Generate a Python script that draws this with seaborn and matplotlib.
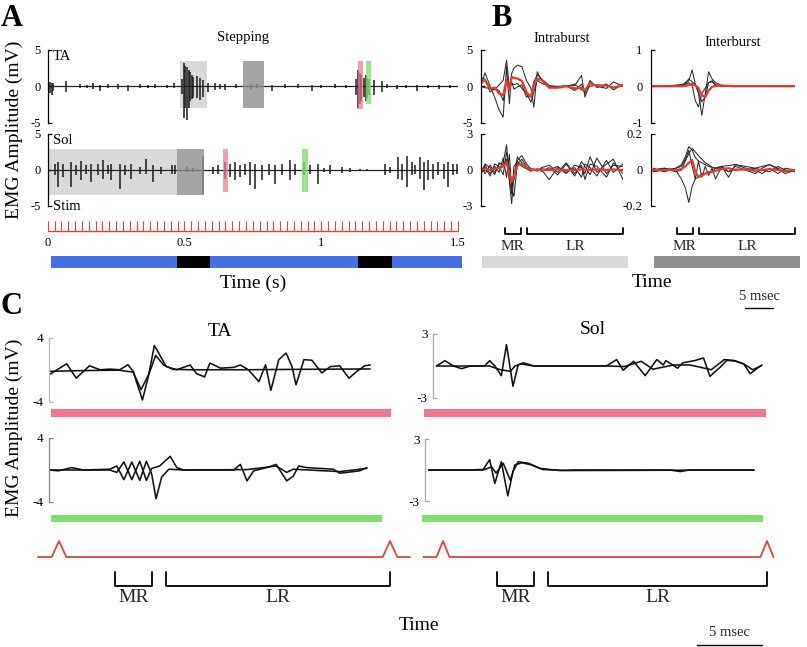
import matplotlib
matplotlib.use("Agg")
import matplotlib.pyplot as plt
import pandas as pd
import seaborn as sns

# ---------------- data ----------------
# A: raw stepping trace (s, mV); each spike drawn from its low to its high value
stim_times_s = [0.0, 0.025, 0.05, 0.075, 0.1, 0.125, 0.15, 0.175, 0.2, 0.225,
                0.25, 0.275, 0.3, 0.325, 0.35, 0.375, 0.4, 0.425, 0.45, 0.475,
                0.5, 0.525, 0.55, 0.575, 0.6, 0.625, 0.65, 0.675, 0.7, 0.725,
                0.75, 0.775, 0.8, 0.825, 0.85, 0.875, 0.9, 0.925, 0.95, 0.975,
                1.0, 1.025, 1.05, 1.075, 1.1, 1.125, 1.15, 1.175, 1.2, 1.225,
                1.25, 1.275, 1.3, 1.325, 1.35, 1.375, 1.4, 1.425, 1.45, 1.475, 1.5]

ta_spike_t = [0.008, 0.015, 0.02, 0.067, 0.118, 0.143, 0.167, 0.19, 0.22, 0.257,
              0.294, 0.338, 0.365, 0.393, 0.436, 0.463, 0.49, 0.497, 0.503, 0.509,
              0.515, 0.52, 0.527, 0.533, 0.545, 0.555, 0.567, 0.587, 0.61, 0.63,
              0.65, 0.69, 0.743, 0.765, 0.82, 0.868, 0.916, 0.965, 1.0, 1.05,
              1.09, 1.128, 1.135, 1.14, 1.147, 1.155, 1.162, 1.168, 1.175, 1.194,
              1.222, 1.24, 1.276, 1.31, 1.35, 1.39, 1.43, 1.47]
ta_spike_hi = [0.65, 0.4, 0.5, 0.7, 0.3, 0.2, 0.4, 0.2, 0.3, 0.3,
               0.2, 0.3, 0.2, 0.3, 0.2, 0.4, 1.0, 3.2, 2.8, 2.7,
               2.2, 2.0, 1.5, 1.3, 1.4, 1.1, 0.9, 0.4, 0.4, 0.3,
               0.3, 0.3, 0.3, 0.3, 0.2, 0.3, 0.3, 0.2, 0.2, 0.3,
               0.2, 1.0, 2.3, 1.8, 1.5, 1.2, 1.6, 1.2, 1.0, 0.9,
               0.74, 0.3, 0.2, 0.2, 0.2, 0.2, 0.2, 0.2]
ta_spike_lo = [-0.97, -1.2, -0.6, -0.8, -0.3, -0.3, -0.4, -0.6, -0.3, -0.4,
               -0.7, -0.3, -0.2, -0.3, -0.3, -0.3, -1.0, -4.4, -3.0, -4.7,
               -3.0, -2.1, -1.8, -1.6, -1.6, -1.9, -1.44, -0.74, -0.5, -0.4,
               -0.5, -0.3, -0.4, -0.3, -0.6, -0.3, -0.3, -0.7, -0.2, -0.3,
               -0.3, -1.2, -3.05, -2.5, -2.0, -1.5, -2.1, -1.6, -1.2, -1.2,
               -0.74, -0.3, -0.4, -0.3, -0.6, -0.2, -0.4, -0.2]

sol_spike_t = [0.027, 0.039, 0.057, 0.087, 0.105, 0.123, 0.141, 0.16, 0.184, 0.203,
               0.221, 0.233, 0.263, 0.282, 0.306, 0.337, 0.361, 0.386, 0.416, 0.453,
               0.465, 0.508, 0.533, 0.566, 0.606, 0.624, 0.648, 0.667, 0.685, 0.704,
               0.722, 0.738, 0.759, 0.783, 0.808, 0.832, 0.857, 0.887, 0.905, 0.936,
               0.96, 0.99, 1.01, 1.033, 1.076, 1.106, 1.143, 1.167, 1.234, 1.252,
               1.282, 1.294, 1.313, 1.331, 1.343, 1.362, 1.374, 1.392, 1.41, 1.428,
               1.447, 1.465, 1.483, 1.496]
sol_spike_hi = [0.88, 1.1, 0.88, 1.1, 0.65, 1.2, 0.65, 0.88, 0.88, 1.34,
                0.65, 0.88, 0.88, 0.65, 0.88, 0.42, 1.57, 0.65, 0.42, 0.65,
                0.65, 0.42, 0.3, 2.0, 0.4, 0.65, 1.1, 0.88, 1.1, 0.65,
                0.88, 1.1, 0.88, 0.65, 0.88, 0.65, 0.88, 1.34, 0.88, 1.1,
                0.65, 0.88, 0.3, 0.65, 0.4, 0.3, 0.2, 0.2, 0.88, 0.4,
                1.8, 0.88, 1.9, 1.1, 0.65, 1.8, 1.1, 1.34, 0.88, 1.1,
                0.88, 1.1, 0.88, 0.88]
sol_spike_lo = [-0.74, -2.36, -0.97, -2.36, -0.74, -1.44, -0.5, -1.67, -0.74, -1.2,
                -0.5, -1.44, -2.6, -0.74, -1.2, -0.5, -0.5, -1.67, -0.5, -0.5,
                -0.5, -0.28, -0.3, -3.3, -0.5, -0.5, -1.2, -0.97, -1.44, -0.97,
                -0.74, -2.13, -2.6, -1.44, -0.74, -1.9, -0.74, -1.44, -0.74, -0.74,
                -0.5, -1.9, -0.3, -0.5, -0.4, -0.3, -0.2, -0.2, -0.74, -0.4,
                -1.2, -1.44, -2.36, -0.74, -0.5, -1.2, -2.8, -1.44, -1.2, -0.74,
                -1.2, -2.36, -0.74, -0.5]

# analysis windows (t0, t1, low mV, high mV)
ta_windows = {"light": (0.485, 0.583, -3.0, 3.5), "dark": (0.714, 0.792, -3.0, 3.5),
              "pink": (1.133, 1.152, -3.2, 3.5), "green": (1.162, 1.183, -2.5, 3.5)}
sol_windows = {"light": (0.0, 0.473, -3.5, 2.9), "dark": (0.473, 0.57, -3.5, 2.9),
               "pink": (0.64, 0.66, -3.1, 2.9), "green": (0.93, 0.95, -3.1, 2.9)}

gait_span_s = (0.012, 1.515)
swing_blocks_s = [(0.473, 0.595), (1.133, 1.258)]
a_xticks = [0, 0.5, 1, 1.5]
a_xticklabels = ["0", "0.5", "1", "1.5"]

# B: stimulus-triggered sweeps (ms, mV)
ib_t = [0, 0.7, 1.6, 2.4, 3.2, 3.9, 4.5, 5.0, 5.4, 5.8, 6.4, 7.2, 8.0, 8.8,
        9.3, 9.9, 10.7, 12.0, 13.5, 15.0, 16.5, 17.7, 18.3, 19.2, 20.4, 22.1, 23.3, 25.0]
ib_ta_mean = [0.6, 0.83, -0.32, -0.2, -1.0, -1.25, 0.83, -0.55, 1.3, 1.15, 1.06, 0.74, -0.8, -1.5,
              0.14, 1.06, 0.83, -0.2, -0.2, 0.0, -0.3, -0.2, -0.55, 0.45, 0.0, 0.1, -0.2, 0.14]
ib_ta_1 = [0.0, 1.85, 0.0, -1.5, -3.3, -4.25, 2.7, -2.4, 1.76, 2.5, 2.9, 2.7, 0.8, -0.3,
           -2.9, 2.0, 0.8, -0.1, -0.2, 0.0, 0.1, 1.5, -1.5, 0.4, 0.0, -0.3, 0.6, 0.0]
ib_ta_2 = [0.0, -0.2, -0.3, -0.5, 0.2, 0.8, 3.6, -0.3, 0.4, 0.2, 0.4, -0.3, -1.0, -2.2,
           -0.8, 0.8, 0.4, 0.0, 0.0, 0.0, 0.3, -0.5, -0.6, 0.0, 0.2, 0.1, -0.2, 0.1]
ib_ta_3 = [1.2, 1.0, -0.8, -0.2, -0.6, -2.0, 0.5, 0.3, 0.6, -0.4, -0.1, 0.2, -1.5, -1.2,
           0.6, 1.6, 1.0, 0.1, -0.1, 0.1, -0.6, 0.3, -1.0, 0.8, -0.2, 0.3, -0.5, 0.3]
ib_sol_mean = [0.0, 0.1, 0.0, 0.1, 0.15, 0.3, 0.6, -0.3, -1.0, -0.5, 0.4, 0.5, 0.2, 0.05,
               0.0, 0.0, 0.0, 0.0, 0.05, 0.0, 0.0, 0.05, 0.0, 0.0, 0.05, 0.0, 0.05, 0.0]
ib_sol_1 = [0.3, -0.3, 0.4, -0.2, 0.5, 0.6, 2.1, -1.0, -2.8, -0.5, 1.1, 0.6, 0.2, 0.1,
            0.0, 0.1, 0.0, -0.8, 0.2, -0.3, 0.4, 0.2, -0.3, 1.1, -0.2, 0.5, 0.9, -0.8]
ib_sol_2 = [-0.4, 0.4, -0.3, 0.3, -0.2, 1.0, -0.6, 1.3, -1.6, -2.2, 0.5, 0.9, 0.3, 0.0,
            0.1, 0.0, -0.1, 0.2, -0.4, 0.5, -0.5, 0.7, 0.3, -0.4, 1.0, -0.3, 0.4, 0.3]
ib_sol_3 = [0.1, 0.2, -0.5, 0.5, 0.3, -0.4, 1.5, 0.2, -1.2, -0.8, 0.8, 1.2, 0.5, 0.1,
            0.0, 0.0, 0.1, 0.0, 0.3, -0.2, 0.2, -0.6, 0.5, 0.2, -0.5, 0.8, -0.2, 0.5]
ib_sol_4 = [-0.3, 0.5, 0.2, -0.4, 0.6, 0.4, 0.9, -0.8, -2.0, 0.3, 0.7, 0.3, 0.1, -0.1,
            0.05, -0.1, 0.2, 0.4, -0.2, 0.6, -0.3, 0.4, -0.8, 0.5, 0.3, -0.6, 0.6, -0.3]

itb_t = [0, 2.0, 4.0, 5.0, 5.7, 6.3, 6.9, 7.45, 8.0, 8.6, 9.2, 9.8,
         10.4, 11.0, 12.1, 13.3, 14.5, 16.3, 18.0, 19.2, 20.5, 22.0, 23.3, 25.0]
itb_ta_mean = [0, 0, 0, 0, 0.01, 0.03, 0.07, 0.02, -0.05, -0.25, -0.3, -0.12,
               -0.02, 0.01, 0.02, 0.01, 0, 0, 0, 0, 0, 0, 0, 0]
itb_ta_1 = [0.02, 0, 0.03, 0.05, 0.08, 0.15, 0.45, 0.05, -0.2, -0.8, -0.2, 0.4,
            0.2, 0.1, 0.02, 0, 0, 0, 0, 0, 0, 0, 0, 0]
itb_ta_2 = [0, 0.02, 0, 0.02, 0.05, 0.1, 0.02, -0.4, -0.57, -0.2, -0.05, 0.1,
            0.15, 0.05, 0, 0, 0, 0, 0, 0, 0, 0, 0, 0]
itb_ta_3 = [0.01, 0, 0.02, 0, 0.1, 0.2, 0.12, 0.05, -0.15, -0.43, -0.3, 0.1,
            0.12, 0.03, 0, 0, 0, 0, 0, 0, 0, 0, 0, 0]
itb_sol_mean = [0, 0, 0, 0.005, 0.02, 0.04, 0.056, -0.01, -0.04, -0.03, -0.02, -0.015,
                -0.01, -0.005, 0.005, 0.01, 0, 0.005, -0.005, 0, 0.005, 0, -0.005, 0]
itb_sol_1 = [0.01, -0.01, 0.01, 0.03, 0.075, 0.13, 0.11, 0.07, 0.05, 0.04, 0.03, 0.02,
             0.015, 0.01, 0.02, -0.01, 0.005, 0, -0.02, 0.01, 0.03, 0.005, -0.02, 0]
itb_sol_2 = [0, 0.01, 0, -0.05, -0.1, -0.18, -0.09, -0.05, -0.04, -0.02, -0.02, -0.01,
             -0.01, 0.01, 0.01, -0.01, 0.02, 0, 0.01, 0, -0.01, 0.02, 0, -0.01]
itb_sol_3 = [-0.01, 0, 0.01, 0.02, 0.06, 0.11, 0.02, -0.05, 0.05, -0.04, 0.02, -0.03,
             0.01, -0.05, 0.02, -0.04, 0.03, 0.01, 0, -0.02, 0.01, -0.02, 0.01, 0]
itb_sol_4 = [0, 0.01, -0.01, 0, 0.05, 0.09, 0.12, 0.1, 0.08, 0.06, 0.04, 0.03,
             0.015, 0.01, 0.02, 0.025, 0.03, 0.02, 0.01, 0.02, 0.03, 0.01, -0.01, 0]

# C: single sweeps from the pink and green windows (ms, mV)
c_ta_pink_t1 = [-0.75, 0.58, 1.3, 2.3, 3.1, 3.85, 4.6, 5.2, 5.6, 6.3, 6.75, 7.2, 7.6,
                8.1, 8.9, 9.9, 10.4, 11.0, 11.4, 12.2, 13.2, 13.7, 14.3, 15.1, 15.6, 16.0,
                16.6, 17.15, 17.6, 17.9, 18.5, 19.1, 19.85, 20.5, 21.2, 21.9, 22.5, 23.1, 23.5]
c_ta_pink_v1 = [-0.64, 0.76, -1.06, 0.5, 0.0, 0.08, 0.0, 0.64, -0.2, -3.8, -0.85, 3.05, 1.9,
                0.4, 0.0, 0.6, -0.5, -0.9, 0.85, 0.2, 0.3, 0.6, 0.0, -1.5, 0.64, -2.6,
                1.27, 2.1, 0.4, -1.9, 1.27, 1.2, -0.4, 0.4, 0.5, -1.06, -0.2, 0.5, 0.6]
c_ta_pink_t2 = [-0.75, 2.0, 4.5, 5.6, 6.2, 6.8, 7.3, 7.9, 8.6, 10.0, 14.0, 18.0, 23.5]
c_ta_pink_v2 = [-0.2, -0.1, -0.05, -0.3, -2.5, -0.5, 1.8, 0.6, 0.05, 0.0, 0.0, 0.05, 0.1]
c_ta_green_t1 = [-0.75, -0.05, 0.96, 1.84, 3.85, 4.36, 4.9, 5.5, 6.1, 6.6, 7.0, 7.33, 7.75,
                 8.3, 9.4, 13.2, 13.7, 14.2, 14.7, 15.7, 16.4, 17.2, 17.7, 18.1, 18.7,
                 20.7, 21.2, 22.0, 22.7, 23.25]
c_ta_green_v1 = [0.0, -0.1, 0.3, 0.0, 0.1, 0.5, -1.2, 1.0, -1.3, 1.1, -0.5, -3.6, -0.9,
                 0.1, 0.0, 0.0, 0.7, -1.36, -0.1, 0.3, 0.7, -1.36, -0.75, 0.5, 0.3,
                 0.1, -0.4, -0.25, -0.1, 0.3]
c_ta_green_t2 = [-0.75, 1.0, 3.85, 4.36, 4.9, 5.5, 6.1, 6.6, 7.0, 7.6, 8.4, 8.9, 9.4,
                 14.2, 16.4, 17.2, 17.7, 21.2, 23.25]
c_ta_green_v2 = [0.0, 0.0, 0.0, -0.3, 1.0, -1.2, 1.1, -1.3, 0.2, 0.5, 1.7, 0.3, 0.0,
                 0.05, 0.5, -0.3, 0.1, -0.2, 0.2]
c_sol_pink_t1 = [-0.5, 0.15, 0.8, 1.44, 2.1, 3.2, 3.6, 4.0, 4.5, 4.9, 5.4, 5.8, 6.2, 7.0,
                 12.6, 13.4, 13.9, 14.7, 15.6, 16.5, 17.0, 17.2, 18.1, 18.5, 19.4, 20.1,
                 20.6, 21.4, 21.9, 22.6, 23.2, 23.7, 24.6]
c_sol_pink_v1 = [0.0, 0.5, 0.0, -0.25, 0.0, 0.0, 0.5, 0.0, -0.9, 2.0, -1.9, 0.1, 0.3, 0.0,
                 0.0, 0.6, -0.4, 0.44, -0.9, 0.6, 0.1, 0.5, -0.2, 0.3, 0.5, 0.75,
                 -0.97, -0.1, 0.53, 0.45, 0.2, -0.72, 0.1]
c_sol_pink_t2 = [-0.5, 3.6, 4.4, 5.2, 5.55, 6.0, 7.0, 12.6, 14.0, 15.3, 16.2, 17.8, 19.0,
                 19.8, 20.7, 21.7, 22.4, 23.2, 23.9, 24.6]
c_sol_pink_v2 = [0.0, 0.0, -0.34, -0.5, 0.0, 0.2, 0.0, 0.0, -0.05, 0.44, -0.3, 0.1, 0.1,
                 -0.1, -0.35, 0.6, 0.53, 0.2, -0.35, 0.05]
c_sol_green_t1 = [-1.1, 1.8, 3.1, 3.6, 4.0, 4.5, 5.0, 5.4, 5.8, 6.6, 7.5, 9.0, 10.1,
                  17.5, 18.3, 19.0, 24.0]
c_sol_green_v1 = [0.0, 0.0, 0.05, 1.0, -1.3, 0.8, -2.5, -0.15, 0.8, 0.65, 0.15, -0.05, 0.0,
                  0.0, -0.15, 0.0, 0.0]
c_sol_green_t2 = [-1.1, 3.1, 3.75, 4.1, 4.65, 5.2, 5.55, 6.1, 6.8, 7.7, 9.5, 24.0]
c_sol_green_v2 = [0.0, 0.0, 0.3, -0.3, 0.65, -1.0, 0.5, 0.7, 0.5, 0.05, -0.05, 0.0]

stim_ta_t = [-1.6, -0.55, 0.0, 0.55, 24.45, 25.0, 25.55, 26.5]
stim_ta_v = [0, 0, 1, 0, 0, 1, 0, 0]
stim_sol_t = [-1.5, -0.5, 0.0, 0.5, 24.5, 25.0, 25.5]
stim_sol_v = [0, 0, 1, 0, 0, 1, 0]

mr_ms = (4.2, 7.0)
lr_ms = (8.1, 25.0)
b_bar_ms = (0.2, 25.9)
c_bar_ta_ms = {"pink": (-0.6, 25.1), "green": (-0.6, 24.4)}
c_bar_sol_ms = {"pink": (-1.5, 24.9), "green": (-1.6, 24.7)}
scale_ms = 5

# ---------------- style ----------------
BLUE = "#4470e4"
RED = "#e8392b"
STIM_RED = "#e0443a"
PINK = "#f27590"
GREEN = "#80df6c"
LIGHT = "#d9d9d9"
DARK = "#8e8e8e"
shade_style = {"light": (LIGHT, 1.0, 0), "dark": (DARK, 0.8, 3),
               "pink": (PINK, 0.7, 3), "green": (GREEN, 0.8, 3)}

sns.set_theme(style="white")
plt.rcParams["font.family"] = ["Liberation Serif", "DejaVu Serif"]

W, H = 807, 647
fig = plt.figure(figsize=(W / 100, H / 100), dpi=100)


def px_axes(x0, y0, x1, y1):
    ax = fig.add_axes([x0 / W, 1 - y1 / H, (x1 - x0) / W, (y1 - y0) / H])
    ax.set_facecolor("none")
    return ax


def ms_axes(x0, y0, x1, y1, t0_px, px_per_unit):
    ax = px_axes(x0, y0, x1, y1)
    ax.set_xlim((x0 - t0_px) / px_per_unit, (x1 - t0_px) / px_per_unit)
    return ax


def overlay(x0, y0, x1, y1, t0_px, px_per_unit):
    ax = ms_axes(x0, y0, x1, y1, t0_px, px_per_unit)
    ax.set_ylim(y1, y0)
    ax.axis("off")
    return ax


def px_text(x, y, s, size, ha="center", va="center", **kw):
    fig.text(x / W, 1 - y / H, s, fontsize=size, ha=ha, va=va, color="black", **kw)


def style_trace_axes(ax, ylim, ticks, labels, color="black", pad=5, size=9):
    ax.set_ylim(*ylim)
    ax.set_yticks(ticks)
    ax.set_yticklabels(labels)
    ax.set_xticks([])
    ax.set_xlabel("")
    ax.set_ylabel("")
    ax.grid(False)
    for side in ["top", "right", "bottom"]:
        ax.spines[side].set_visible(False)
    ax.spines["left"].set_color(color)
    ax.spines["left"].set_linewidth(0.9)
    ax.tick_params(axis="y", left=True, direction="in", length=3, width=0.9,
                   color=color, labelsize=size, labelcolor="black", pad=pad)


def draw_traces(ax, traces, color, lw):
    frames = [pd.DataFrame({"t": t, "mv": v, "trace": i}) for i, (t, v) in enumerate(traces)]
    df = pd.concat(frames, ignore_index=True)
    sns.lineplot(data=df, x="t", y="mv", units="trace", estimator=None, sort=False,
                 color=color, lw=lw, ax=ax, legend=False, solid_joinstyle="round")


def bracket(ax, window, y_top, y_bot, y_lab, size):
    t0, t1 = window
    ax.plot([t0, t0, t1, t1], [y_top, y_bot, y_bot, y_top], color="black", lw=1.3)
    ax.text((t0 + t1) / 2, y_lab, label_of[window], ha="center", va="center", fontsize=size)


label_of = {mr_ms: "MR", lr_ms: "LR"}

# ---------------- panel A ----------------
A_T0, A_S = 47.7, 273.3
for (y0, y1, t, hi, lo, wins) in [(50, 122.5, ta_spike_t, ta_spike_hi, ta_spike_lo, ta_windows),
                                  (134, 206, sol_spike_t, sol_spike_hi, sol_spike_lo, sol_windows)]:
    ax = px_axes(A_T0, y0, 458, y1)
    ax.set_xlim(0, 1.5)
    ax.plot([0, 1.5], [0, 0], color="#222222", lw=0.9, zorder=2)
    ax.vlines(t, lo, hi, color="#1a1a1a", lw=1.1, zorder=2)
    for name, (w0, w1, lo_mv, hi_mv) in wins.items():
        c, a, z = shade_style[name]
        ax.fill_between([w0, w1], lo_mv, hi_mv, color=c, alpha=a, lw=0, zorder=z)
    style_trace_axes(ax, (-5, 5), [-5, 0, 5], ["-5", "0", "5"], pad=5)

ax = px_axes(A_T0, 221, 458, 231)
ax.set_xlim(0, 1.5)
ax.set_ylim(0, 1)
ax.vlines(stim_times_s, 0, 1, color=STIM_RED, lw=0.8, clip_on=False)
ax.plot([0, 1.5], [0, 0], color=STIM_RED, lw=1.0, clip_on=False)
ax.set_yticks([])
ax.set_xticks(a_xticks)
ax.set_xticklabels(a_xticklabels)
ax.tick_params(axis="x", length=0, pad=4, labelsize=9, labelcolor="black")
for side in ax.spines:
    ax.spines[side].set_visible(False)

ax = px_axes(A_T0, 256, 458, 268)
ax.set_xlim(0, 1.5)
ax.set_ylim(0, 1)
ax.axis("off")
ax.fill_between(list(gait_span_s), 0, 1, color=BLUE, lw=0, clip_on=False)
for s0, s1 in swing_blocks_s:
    ax.fill_between([s0, s1], 0, 1, color="black", lw=0, clip_on=False)

# ---------------- panel B ----------------
B_S = 5.68
b_cols = [
    (481, 481, 623, [ib_ta_1, ib_ta_2, ib_ta_3], ib_ta_mean, [ib_sol_1, ib_sol_2, ib_sol_3, ib_sol_4],
     ib_sol_mean, ib_t, ((-5, 5), [-5, 0, 5], ["-5", "0", "5"]), ((-3, 3), [-3, 0, 3], ["-3", "0", "3"])),
    (653, 651, 795, [itb_ta_1, itb_ta_2, itb_ta_3], itb_ta_mean, [itb_sol_1, itb_sol_2, itb_sol_3, itb_sol_4],
     itb_sol_mean, itb_t, ((-1, 1), [-1, 0, 1], ["-1", "0", "1"]),
     ((-0.2, 0.2), [-0.2, 0, 0.2], ["-0.2", "0", "0.2"])),
]
for t0, x0, x1, ta_tr, ta_mean, sol_tr, sol_mean, tt, ta_ax, sol_ax in b_cols:
    for (y0, y1, traces, mean, axspec) in [(50, 122.5, ta_tr, ta_mean, ta_ax),
                                           (134, 206, sol_tr, sol_mean, sol_ax)]:
        ax = ms_axes(x0, y0, x1, y1, t0, B_S)
        draw_traces(ax, [(tt, v) for v in traces], "#2a2a2a", 0.75)
        draw_traces(ax, [(tt, mean)], RED, 1.6)
        ax.set_xlim((x0 - t0) / B_S, (x1 - t0) / B_S)
        style_trace_axes(ax, *axspec, pad=6)

ov = overlay(478, 220, 640, 275, 481, B_S)
bracket(ov, mr_ms, 228, 234, 247, 11)
bracket(ov, lr_ms, 228, 234, 247, 11)
ov.fill_between(list(b_bar_ms), 256, 268, color=LIGHT, lw=0)

ov = overlay(645, 220, 807, 312, 653, B_S)
bracket(ov, mr_ms, 228, 234, 247, 11)
bracket(ov, lr_ms, 228, 234, 247, 11)
ov.fill_between(list(b_bar_ms), 256, 268, color=DARK, lw=0)
ov.plot([16.2, 16.2 + scale_ms], [308, 308], color="black", lw=1.0)
ov.text(16.2 + scale_ms / 2, 297, "5 msec", ha="center", va="center", fontsize=10.5)

# ---------------- panel C ----------------
c_cols = [
    (59, 13.24, [(49, 338, 401.5, [(c_ta_pink_t1, c_ta_pink_v1), (c_ta_pink_t2, c_ta_pink_v2)], "#b8b8b8"),
                 (49, 438, 502, [(c_ta_green_t1, c_ta_green_v1), (c_ta_green_t2, c_ta_green_v2)], "#808080")],
     ((-4, 4), [-4, 4], ["-4", "4"]), stim_ta_t, stim_ta_v, (36, 412), c_bar_ta_ms),
    (443, 12.96, [(433, 334, 398, [(c_sol_pink_t1, c_sol_pink_v1), (c_sol_pink_t2, c_sol_pink_v2)], "#a8a8a8"),
                  (425, 439, 501, [(c_sol_green_t1, c_sol_green_v1), (c_sol_green_t2, c_sol_green_v2)], "#a8a8a8")],
     ((-3, 3), [-3, 3], ["-3", "3"]), stim_sol_t, stim_sol_v, (420, 800), c_bar_sol_ms),
]
for t0, s, rows, axspec, st_t, st_v, (ox0, ox1), bars in c_cols:
    for x0, y0, y1, traces, spine in rows:
        ax = ms_axes(x0, y0, ox1 - 1, y1, t0, s)
        draw_traces(ax, traces, "#111111", 1.15)
        ax.set_xlim((x0 - t0) / s, (ox1 - 1 - t0) / s)
        style_trace_axes(ax, *axspec, color=spine, pad=4, size=9.5)

    ax = ms_axes(ox0, 541, ox1, 557, t0, s)
    ax.set_ylim(0, 1)
    ax.axis("off")
    sns.lineplot(x=st_t, y=st_v, color=STIM_RED, lw=1.3, ax=ax, sort=False)
    for line in ax.lines:
        line.set_clip_on(False)

    ov = overlay(ox0, 400, ox1, 647, t0, s)
    ov.fill_between(list(bars["pink"]), 409, 417, color=PINK, lw=0)
    ov.fill_between(list(bars["green"]), 515, 522, color=GREEN, lw=0)
    bracket(ov, mr_ms, 572, 586, 597, 14)
    bracket(ov, lr_ms, 572, 586, 597, 14)
    if t0 == 443:
        ov.plot([19.6, 19.6 + scale_ms], [645, 645], color="black", lw=1.0)
        ov.text(19.6 + scale_ms / 2, 633, "5 msec", ha="center", va="center", fontsize=10.5)

# ---------------- text ----------------
px_text(12, 19, "A", 22, weight="bold")
px_text(502, 18, "B", 22, weight="bold")
px_text(12, 307, "C", 22, weight="bold")
px_text(243, 38, "Stepping", 10.5)
px_text(562, 38, "Intraburst", 10.5)
px_text(733, 43, "Interburst", 10.5)
px_text(53, 57, "TA", 10.5, ha="left")
px_text(53, 140, "Sol", 10.5, ha="left")
px_text(53, 207, "Stim", 10.5, ha="left")
px_text(14, 130, "EMG Amplitude (mV)", 14, rotation=90)
px_text(14, 428, "EMG Amplitude (mV)", 14, rotation=90)
px_text(253, 283, "Time (s)", 14)
px_text(652, 283, "Time", 14)
px_text(419, 625, "Time", 14)
px_text(220, 332, "TA", 14)
px_text(593, 330, "Sol", 14)

fig.savefig("out.png", dpi=100)
